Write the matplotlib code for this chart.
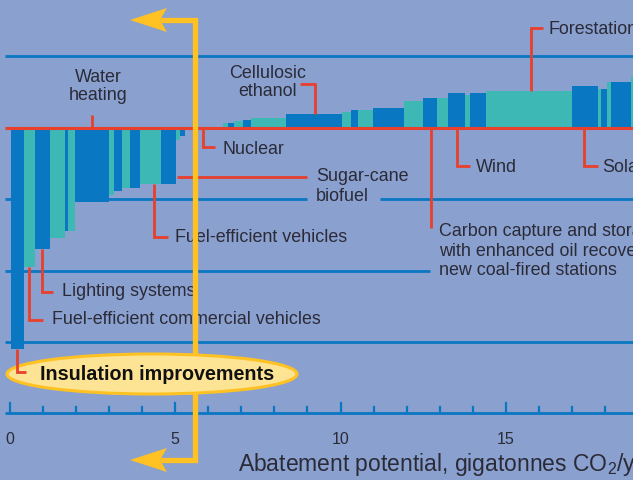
import matplotlib
matplotlib.use("Agg")
import matplotlib.pyplot as plt
from matplotlib.patches import Ellipse, Polygon

plt.rcParams['font.family'] = ['Liberation Sans', 'DejaVu Sans']
plt.rcParams['mathtext.fontset'] = 'custom'
plt.rcParams['mathtext.rm'] = 'Liberation Sans'

# ---------------- data (abatement potential widths, cost heights) ----------------
neg_widths = [0.39, 0.33, 0.45, 0.45, 0.09, 0.21, 1.03, 0.15, 0.24, 0.24, 0.30, 0.66, 0.45, 0.12, 0.15]
neg_costs = [-124, -78, -68, -62, -58, -58, -41.5, -38, -35.5, -34, -34, -31.5, -31.5, -7, -5]
pos_widths = [0.15, 0.18, 0.27, 0.24, 1.06, 1.69, 0.27, 0.21, 0.45, 0.94, 0.57, 0.45,
              0.33, 0.51, 0.15, 0.48, 2.60, 0.79, 0.09, 0.18, 0.12, 0.60, 0.60]
pos_costs = [2.5, 2.7, 3.8, 4.4, 5.3, 7.7, 8.7, 9.8, 9.8, 10.9, 14.8, 16.5,
             16.5, 19.3, 18.2, 19.3, 20.4, 23.2, 21.5, 21.5, 25.5, 25.5, 28.0]
neg_start = 0.05
pos_start = 6.45
x_ticks = list(range(0, 19))
x_tick_labels = ['0', '5', '10', '15']
x_label_ticks = [0, 5, 10, 15]
grid_levels = [40, -40, -80, -120]

# ---------------- style ----------------
BG = '#8aa0cf'
BLUE = '#0a77c2'
TEAL = '#3db8b4'
RED = '#e8402c'
YELLOW = '#ffc222'
TXT = '#2b2b38'
FS = 12.9

W, H = 633, 480
fig = plt.figure(figsize=(W / 100, H / 100), dpi=100, facecolor=BG)
ax = fig.add_axes([0, 0, 1, 1])
ax.set_facecolor(BG)
X0, XS = 9.5, 33.1
Y0, YS = 127.5, 71.5 / 40
ax.set_xlim(-X0 / XS, (W - X0) / XS)
ax.set_ylim((Y0 - H) / YS, Y0 / YS)
ax.axis('off')


def px(x):
    return (x - X0) / XS


def py(y):
    return (Y0 - y) / YS


# ---------------- bars ----------------
def lefts(start, widths):
    out, cur = [], start
    for w in widths:
        out.append(cur)
        cur += w
    return out


neg_lefts = lefts(neg_start, neg_widths)
pos_lefts = lefts(pos_start, pos_widths)
neg_colors = [BLUE if i % 2 == 0 else TEAL for i in range(len(neg_widths))]
pos_colors = [TEAL if i % 2 == 0 else BLUE for i in range(len(pos_widths))]
ax.bar(neg_lefts, neg_costs, width=neg_widths, align='edge', color=neg_colors, linewidth=0, zorder=3)
ax.bar(pos_lefts, pos_costs, width=pos_widths, align='edge', color=pos_colors, linewidth=0, zorder=3)

# ---------------- grid lines ----------------
for lev in grid_levels:
    if lev == -40:
        ax.plot([px(5), px(307)], [lev, lev], color=BLUE, lw=2.0, zorder=2, solid_capstyle='butt')
        ax.plot([px(380), px(W)], [lev, lev], color=BLUE, lw=2.0, zorder=2, solid_capstyle='butt')
    elif lev == -80:
        ax.plot([px(5), px(430)], [lev, lev], color=BLUE, lw=2.0, zorder=2, solid_capstyle='butt')
    else:
        ax.plot([px(5), px(W)], [lev, lev], color=BLUE, lw=2.0, zorder=2, solid_capstyle='butt')
ax.plot([px(5), px(W)], [0, 0], color=RED, lw=2.2, zorder=4, solid_capstyle='butt')

# ---------------- x axis ----------------
axis_y = py(412.7)
ax.plot([px(5), px(W)], [axis_y, axis_y], color=BLUE, lw=2.0, zorder=2, solid_capstyle='butt')
for t in x_ticks:
    top = py(402.5) if t % 5 == 0 else py(407)
    ax.plot([t, t], [axis_y, top], color=BLUE, lw=1.6, zorder=2)
for t, lab in zip(x_label_ticks, x_tick_labels):
    ax.text(t, py(439), lab, ha='center', va='center', fontsize=11.5, color=TXT)
ax.text(px(238), py(465), 'Abatement potential, gigatonnes CO$_2$/year', ha='left', va='center',
        fontsize=16.5, color=TXT)

# ---------------- yellow arrow ----------------
ylw = dict(color=YELLOW, lw=3.8, zorder=6, solid_capstyle='butt', solid_joinstyle='miter')
ax.plot([px(160), px(194.5), px(194.5), px(160)], [py(20), py(20), py(460), py(460)], **ylw)
for yy in (20, 460):
    head = [(px(130), py(yy)), (px(167), py(yy - 12)), (px(160), py(yy)), (px(167), py(yy + 12))]
    ax.add_patch(Polygon(head, closed=True, facecolor=YELLOW, edgecolor='none', zorder=6))

# ---------------- ellipse label ----------------
ax.add_patch(Ellipse((px(152), py(374)), 290 / XS, 40 / YS, facecolor='#fde394',
                     edgecolor=YELLOW, lw=2.2, zorder=7))
ax.text(px(157), py(374), 'Insulation improvements', ha='center', va='center',
        fontsize=14.2, fontweight='bold', color='#111111', zorder=8)


# ---------------- leaders & labels ----------------
def leader(xs, ys, z=5):
    ax.plot(xs, ys, color=RED, lw=2.0, zorder=z, solid_joinstyle='miter', solid_capstyle='butt')


def label(x, y, s, ha='left', ls=1.12, **kw):
    ax.text(px(x), py(y), s, ha=ha, va='center', fontsize=FS, color=TXT,
            linespacing=ls, zorder=5, **kw)


leader([px(17), px(17), px(26)], [neg_costs[0], py(372), py(372)], z=8)

label(98, 86.5, 'Water\nheating', ha='center', multialignment='center')
leader([px(92), px(92)], [py(115), 0])

label(268, 82.5, 'Cellulosic\nethanol', ha='center', multialignment='center')
leader([px(300), px(315), px(315)], [py(84), py(84), pos_costs[5]])

label(222, 150, 'Nuclear')
leader([px(203), px(203), px(215)], [0, py(147), py(147)])

label(316, 186.5, 'Sugar-cane\nbiofuel', multialignment='left', ls=1.2)
leader([px(177), px(307)], [py(176.5), py(176.5)])

label(175, 238, 'Fuel-efficient vehicles')
leader([px(154), px(154), px(168)], [neg_costs[11], py(237), py(237)])

label(62, 291, 'Lighting systems')
leader([px(41.7), px(41.7), px(53)], [neg_costs[2], py(292), py(292)])

label(52, 320, 'Fuel-efficient commercial vehicles')
leader([px(28.7), px(28.7), px(43)], [neg_costs[1], py(320), py(320)])

label(548, 30, 'Forestation')
leader([px(530.7), px(530.7), px(543)], [pos_costs[16], py(28), py(28)])

label(476, 167, 'Wind')
leader([px(457), px(457), px(470)], [0, py(166), py(166)])

label(602, 167, 'Solar')
leader([px(584), px(584), px(598)], [0, py(166), py(166)])

label(439, 251, 'Carbon capture and storage\nwith enhanced oil recovery,\nnew coal-fired stations',
      multialignment='left', ls=1.2)
leader([px(430.7), px(430.7)], [0, py(228)])

fig.savefig('out.png', dpi=100, facecolor=BG)
